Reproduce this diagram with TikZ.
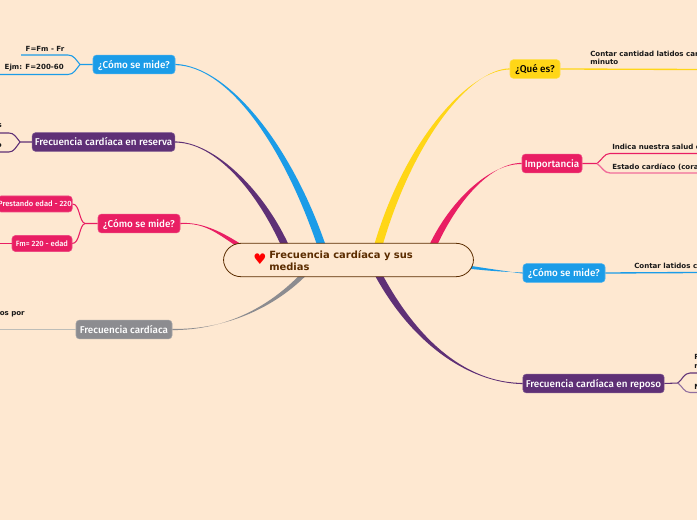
\documentclass[tikz,border=0pt]{standalone}
\usepackage{fontspec}
\setmainfont{DejaVu Sans}
\newfontfamily\topicfont{Fira Sans Medium}
\definecolor{paper}{HTML}{FEE8D1}
\definecolor{cblue}{HTML}{1B9CE8}
\definecolor{cpurple}{HTML}{5F3076}
\definecolor{cred}{HTML}{E91E63}
\definecolor{cgray}{HTML}{8C8C90}
\definecolor{clight}{HTML}{BDBDB8}
\definecolor{cyellow}{HTML}{FFD617}
\definecolor{cbrown}{HTML}{5B2C00}
\tikzset{
  topic/.style={rectangle,rounded corners=2.5pt,inner sep=0pt,text=white,font=\topicfont\fontsize{7.4}{9}\selectfont,minimum height=14pt,text height=6.4pt,text depth=1pt},
  subtopic/.style={topic,font=\topicfont\fontsize{5.7}{7}\selectfont,minimum height=12pt,text height=5pt,text depth=0.6pt},
  leaf/.style={inner sep=0pt,align=left,text=black!90,font=\bfseries\fontsize{5.3}{6.6}\selectfont},
  fork/.style={line width=0.8pt},
}
% tapered branch: from node #2 to coordinate #3 on the root, half width #4
\newcommand{\branch}[6]{%
  \fill[#1] ([yshift=0.45pt]#2) .. controls (#5) and ([xshift=#4]#6) .. ([xshift=#4]#3)
    -- ([xshift=-#4]#3) .. controls ([xshift=-#4]#6) and (#5) .. ([yshift=-0.45pt]#2) -- cycle;
}
\begin{document}
\begin{tikzpicture}[x=0.75pt,y=-0.75pt]
\clip (0,0) rectangle (697,520);
\fill[paper] (0,0) rectangle (697,520);
% first level
\node[topic,fill=cblue,draw=cblue!80!white,minimum width=61.5pt] (howa) at (134,64.5) {¿Cómo se mide?};
\node[topic,fill=cpurple,draw=cpurple!80!white,minimum width=107pt] (reserve) at (103.5,142) {Frecuencia cardíaca en reserva};
\node[topic,fill=cred,draw=cred!80!white,minimum width=61.5pt] (howb) at (139,223.5) {¿Cómo se mide?};
\node[topic,fill=cgray,draw=cgray!80!white,minimum width=72pt] (rate) at (124,329.5) {Frecuencia cardíaca};
\node[topic,fill=cyellow,draw=cyellow!80!white,text=black,minimum width=37.5pt] (what) at (535,69) {¿Qué es?};
\node[topic,fill=cred,draw=cred!80!white,minimum width=45pt] (matter) at (552,163.5) {Importancia};
\node[topic,fill=cblue,draw=cblue!80!white,minimum width=61.5pt] (howc) at (564,273) {¿Cómo se mide?};
\node[topic,fill=cpurple,draw=cpurple!80!white,minimum width=106pt] (rest) at (593.5,383.5) {Frecuencia cardíaca en reposo};
% second level
\node[subtopic,fill=cred,draw=cred!80!white,anchor=east,minimum width=56pt] (lend) at (72.5,204) {Prestando edad - 220};
\node[subtopic,fill=cred,draw=cred!80!white,minimum width=45pt] (fm) at (42,243.5) {Fm= 220 - edad};
% ends on the root and free ends
\coordinate (ra) at (323,250);
\coordinate (rb) at (287,250);
\coordinate (rc) at (246,250);
\coordinate (rd) at (306,272);
\coordinate (re) at (377,250);
\coordinate (rf) at (431,250);
\coordinate (rg) at (462,268);
\coordinate (rh) at (376,270);
\branch{cblue}{howa.east}{ra}{3.2pt}{228,66}{288,145}
\branch{cpurple}{reserve.east}{rb}{3pt}{215,142}{262,192}
\branch{cred}{howb.east}{rc}{3pt}{205,222}{222,234}
\branch{cgray}{rate.east}{rd}{2.6pt}{225,330}{272,308}
\branch{cyellow}{what.west}{re}{3.2pt}{470,69}{408,140}
\branch{cred}{matter.west}{rf}{3pt}{490,163}{452,202}
\fill[cblue] ([yshift=0.45pt]howc.west) .. controls (505,272) and (490,271) .. (rg) -- (462,264.5) .. controls (490,269) and (505,271) .. ([yshift=-0.45pt]howc.west) -- cycle;
\branch{cpurple}{rest.west}{rh}{3pt}{470,383}{415,345}
% root
\node[rectangle,rounded corners=13pt,fill=paper,draw=cbrown,line width=0.6pt,minimum width=187.5pt,minimum height=25pt,inner sep=0pt] (root) at (348.5,260) {};
\node[inner sep=0pt,anchor=west,align=left,text=cbrown,font=\bfseries\fontsize{7.45}{9.2}\selectfont] (title) at (269,260.5) {Frecuencia cardíaca y sus\\medias};
\node[inner sep=0pt,text=red,font=\fontsize{11}{11}\selectfont] (heart) at (260,259.5) {♥};
% forks
\coordinate (forka) at (80,64.5);
\coordinate (ea) at (21,55);
\coordinate (eb) at (-2,74.5);
\draw[fork,cblue] (howa.west) -- (forka) .. controls (76,60) and (74,55) .. (68,55) -- (ea);
\draw[fork,cblue] (forka) .. controls (76,69) and (74,74.5) .. (68,74.5) -- (eb);
\coordinate (forkb) at (20,142);
\coordinate (ec) at (-2,133);
\coordinate (ed) at (-2,152);
\draw[fork,cpurple] (reserve.west) -- (forkb) .. controls (16,137) and (14,133) .. (9,133) -- (ec);
\draw[fork,cpurple] (forkb) .. controls (16,147) and (14,152) .. (9,152) -- (ed);
\coordinate (forkc) at (85,223.5);
\draw[fork,cred] (howb.west) -- (forkc) .. controls (79,222) and (80,204) .. (lend.east);
\draw[fork,cred] (forkc) .. controls (79,225) and (80,243.5) .. (fm.east);
\coordinate (ee) at (-2,243.5);
\draw[fork,cred] (fm.west) -- (ee);
\coordinate (ef) at (-2,329.5);
\draw[line width=1.1pt,clight] (rate.west) -- (ef);
\coordinate (eg) at (699,69.5);
\draw[line width=1pt,cyellow] (what.east) -- (eg);
\coordinate (forkd) at (597,163.5);
\coordinate (eh) at (699,153.5);
\coordinate (ei) at (699,173);
\draw[fork,cred] (matter.east) -- (forkd) .. controls (602,160) and (604,153.5) .. (610,153.5) -- (eh);
\draw[line width=1pt,cred!65!white] (forkd) .. controls (602,167) and (604,173) .. (610,173) -- (ei);
\coordinate (ej) at (699,272.5);
\draw[line width=1pt,cblue] (howc.east) -- (ej);
\coordinate (forke) at (678,383);
\coordinate (ek) at (699,373);
\coordinate (el) at (699,392.5);
\draw[fork,cpurple] (rest.east) -- (forke) .. controls (682,380) and (684,373) .. (690,373) -- (ek);
\draw[fork,cpurple!70!white] (forke) .. controls (682,386) and (684,392.5) .. (690,392.5) -- (el);
% leaves
\node[leaf,anchor=center] (la) at (45,48.5) {F=Fm - Fr};
\node[leaf,anchor=east] (lb) at (64,68) {Ejm: F=200-60};
\node[leaf,anchor=east] (lc) at (2,125.5) {s};
\node[leaf,anchor=east] (ld) at (2,145.5) {o};
\node[leaf,anchor=east] (le) at (25,314.5) {os por};
\node[leaf,anchor=north west] (lf) at (590,50.5) {Contar cantidad latidos car\\minuto};
\node[leaf,anchor=west] (lg) at (612,147) {Indica nuestra salud c};
\node[leaf,anchor=west] (lh) at (612,167) {Estado cardíaco (cora};
\node[leaf,anchor=west] (li) at (634,266) {Contar latidos ca};
\node[leaf,anchor=north west] (lj) at (694,354.5) {R\\r};
\node[leaf,anchor=west] (lk) at (694,386.5) {N};
\end{tikzpicture}
\end{document}
